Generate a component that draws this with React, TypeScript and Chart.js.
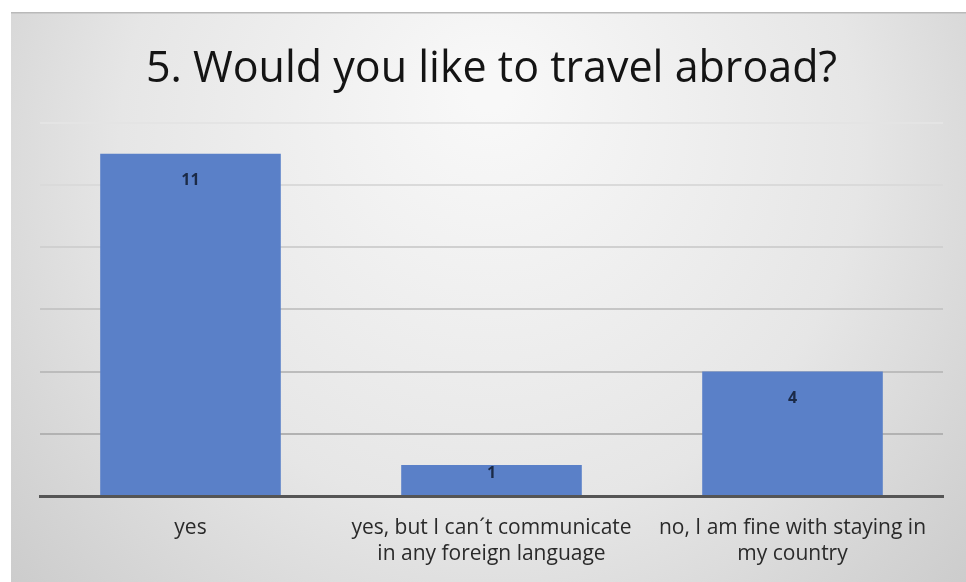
import React, { useEffect, useRef } from "react";
import { Chart, registerables } from "chart.js";

Chart.register(...registerables);

const titleText = "5. Would you like to travel abroad?";
const categories: string[][] = [
  ["yes"],
  ["yes, but I can´t communicate", "in any foreign language"],
  ["no, I am fine with staying in", "my country"],
];
const values: number[] = [11, 1, 4];
const yMax = 12;
const yStep = 2;

const FONT = "'Open Sans', Lato, sans-serif";

const bgPlugin = {
  id: "cardBg",
  beforeDraw(chart: any) {
    const { ctx, width, height } = chart;
    ctx.save();
    ctx.fillStyle = "#ffffff";
    ctx.fillRect(0, 0, width, height);
    const g = ctx.createRadialGradient(490, 90, 20, 490, 200, 720);
    g.addColorStop(0, "#f8f8f8");
    g.addColorStop(0.5, "#e6e6e6");
    g.addColorStop(1, "#c2c2c2");
    ctx.fillStyle = g;
    ctx.fillRect(11, 12, width - 11, height - 12);
    ctx.fillStyle = "#b9b9b9";
    ctx.fillRect(11, 12, width - 11, 1.5);
    ctx.restore();
  },
};

const labelPlugin = {
  id: "barLabels",
  afterDatasetsDraw(chart: any) {
    const { ctx } = chart;
    const meta = chart.getDatasetMeta(0);
    const base = chart.scales.y.getPixelForValue(0);
    ctx.save();
    ctx.font = "bold 16px " + FONT;
    ctx.fillStyle = "#1b2a47";
    ctx.textAlign = "center";
    ctx.textBaseline = "middle";
    meta.data.forEach((bar: any, i: number) => {
      const y = Math.min(bar.y + 27, base - 23);
      ctx.fillText(String(values[i]), bar.x, y);
    });
    ctx.restore();
  },
};

export default function App() {
  const ref = useRef<HTMLCanvasElement>(null);
  useEffect(() => {
    if (!ref.current) return;
    const chart = new Chart(ref.current, {
      type: "bar",
      data: {
        labels: categories,
        datasets: [
          {
            data: values,
            backgroundColor: "#5a80c8",
            borderWidth: 0,
            barPercentage: 0.6,
            categoryPercentage: 1,
          },
        ],
      },
      options: {
        animation: false,
        responsive: false,
        devicePixelRatio: 1,
        layout: { padding: { top: 12, left: 40, right: 23, bottom: -4 } },
        plugins: {
          legend: { display: false },
          tooltip: { enabled: false },
          title: {
            display: true,
            text: titleText,
            color: "#141414",
            font: { family: FONT, size: 43, weight: "normal", lineHeight: 1.2 },
            padding: { top: 32, bottom: 27 },
          },
        },
        scales: {
          x: {
            grid: { display: false, drawTicks: false },
            border: { display: true, color: "#555555", width: 3 },
            ticks: {
              color: "#2a2a2a",
              font: { family: FONT, size: 21, weight: "500", lineHeight: "26px" },
              padding: 19,
              maxRotation: 0,
              autoSkip: false,
            },
          },
          y: {
            min: 0,
            max: yMax,
            ticks: { display: false, stepSize: yStep },
            border: { display: false },
            grid: {
              drawTicks: false,
              lineWidth: 2,
              color: (c: any) => {
                const v = c.tick ? c.tick.value : 0;
                const t = v / yMax;
                const shade = Math.round(168 + t * 60);
                return `rgb(${shade},${shade},${shade})`;
              },
            },
          },
        },
      },
      plugins: [bgPlugin, labelPlugin],
    });
    return () => chart.destroy();
  }, []);
  return (
    <div style={{ position: "fixed", left: 0, top: 0, width: 966, height: 582 }}>
      <canvas ref={ref} width={966} height={582} style={{ width: 966, height: 582, display: "block" }} />
    </div>
  );
}
